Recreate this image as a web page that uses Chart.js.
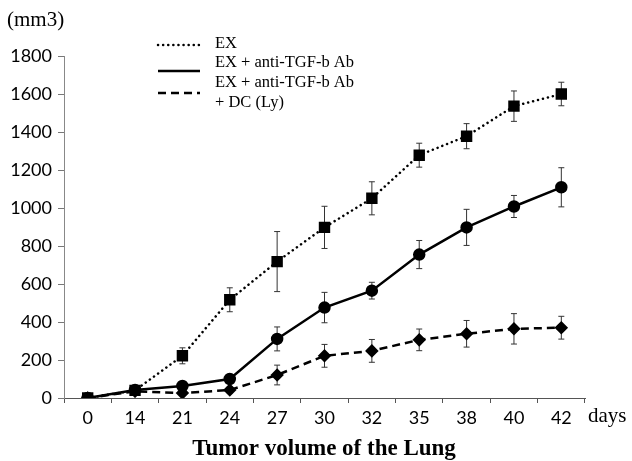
<!DOCTYPE html>
<html>
<head>
<meta charset="utf-8">
<script src="https://cdn.jsdelivr.net/npm/chart.js@4.4.1/dist/chart.umd.min.js"></script>
<style>
  html, body { margin: 0; padding: 0; background: #fff; }
  #wrap { width: 632px; height: 461px; position: relative; }
</style>
</head>
<body>
<div id="wrap"><canvas id="tumorChart" width="632" height="461"></canvas></div>
<script>
// days after treatment (category axis)
const days = ['0', '14', '21', '24', '27', '30', '32', '35', '38', '40', '42'];

// tumor volume (mm3) and error bars
const exValues = [0, 40, 222, 517, 718, 898, 1051, 1278, 1378, 1536, 1600];
const exErrors = [0, 0, 42, 63, 158, 111, 87, 63, 66, 80, 62];

const abValues = [0, 42, 63, 100, 311, 476, 565, 755, 898, 1008, 1109];
const abErrors = [0, 0, 10, 22, 63, 80, 44, 74, 95, 58, 103];

const dcValues = [0, 35, 26, 42, 121, 222, 248, 306, 338, 364, 370];
const dcErrors = [0, 0, 10, 15, 52, 60, 60, 57, 70, 80, 60];

const yTicks = [0, 200, 400, 600, 800, 1000, 1200, 1400, 1600, 1800];

const legendLabels = [['EX'], ['EX + anti-TGF-b Ab'], ['EX + anti-TGF-b Ab', '+ DC (Ly)']];

const tickFont = { family: 'Lato', size: 18 };

// vertical error bars with small caps, drawn under the markers
const errorBars = {
    id: 'errorBars',
    beforeDatasetsDraw(chart) {
        const ctx = chart.ctx;
        const yScale = chart.scales.y;
        ctx.save();
        ctx.strokeStyle = '#333';
        ctx.lineWidth = 1;
        chart.data.datasets.forEach((ds, i) => {
            const meta = chart.getDatasetMeta(i);
            meta.data.forEach((pt, j) => {
                const err = ds.errors[j];
                if (!err) return;
                const top = yScale.getPixelForValue(ds.data[j] + err);
                const bottom = yScale.getPixelForValue(ds.data[j] - err);
                ctx.beginPath();
                ctx.moveTo(pt.x, top);
                ctx.lineTo(pt.x, bottom);
                ctx.moveTo(pt.x - 3, top);
                ctx.lineTo(pt.x + 3, top);
                ctx.moveTo(pt.x - 3, bottom);
                ctx.lineTo(pt.x + 3, bottom);
                ctx.stroke();
            });
        });
        ctx.restore();
    }
};

// unit label, "days", bottom caption and the line-style legend
const extraText = {
    id: 'extraText',
    afterDraw(chart) {
        const ctx = chart.ctx;
        const area = chart.chartArea;
        ctx.save();
        ctx.fillStyle = '#000';
        ctx.textBaseline = 'middle';

        ctx.font = '21px "Liberation Serif"';
        ctx.textAlign = 'left';
        ctx.fillText('(mm3)', 7, 20);
        ctx.fillText('days', area.right + 3, 416);

        ctx.font = 'bold 23px "Liberation Serif"';
        ctx.textAlign = 'center';
        ctx.fillText('Tumor volume of the Lung', 324, 449);

        // legend
        ctx.font = '16.5px "Liberation Serif"';
        ctx.textAlign = 'left';
        const rowY = [[44], [63], [83, 103]];
        const sampleY = [45, 71, 93];
        chart.data.datasets.forEach((ds, i) => {
            ctx.beginPath();
            ctx.setLineDash(ds.borderDash || []);
            ctx.lineCap = ds.borderCapStyle || 'butt';
            ctx.lineWidth = ds.borderWidth;
            ctx.strokeStyle = '#000';
            ctx.moveTo(158, sampleY[i]);
            ctx.lineTo(200, sampleY[i]);
            ctx.stroke();
            legendLabels[i].forEach((t, k) => ctx.fillText(t, 215, rowY[i][k]));
        });
        ctx.restore();
    }
};

new Chart(document.getElementById('tumorChart'), {
    type: 'line',
    data: {
        labels: days,
        datasets: [
            {
                label: 'EX',
                data: exValues,
                errors: exErrors,
                borderColor: '#000',
                backgroundColor: '#000',
                borderWidth: 2.5,
                borderDash: [0.1, 5],
                borderCapStyle: 'round',
                pointStyle: 'rect',
                pointRadius: 6.3,
                tension: 0
            },
            {
                label: 'EX + anti-TGF-b Ab',
                data: abValues,
                errors: abErrors,
                borderColor: '#000',
                backgroundColor: '#000',
                borderWidth: 2.5,
                pointStyle: 'circle',
                pointRadius: 5,
                tension: 0
            },
            {
                label: 'EX + anti-TGF-b Ab + DC (Ly)',
                data: dcValues,
                errors: dcErrors,
                borderColor: '#000',
                backgroundColor: '#000',
                borderWidth: 2.5,
                borderDash: [8, 5],
                pointStyle: 'rectRot',
                pointRadius: 5,
                tension: 0
            }
        ]
    },
    options: {
        responsive: false,
        animation: false,
        layout: { padding: { left: 0, right: 47, top: 56, bottom: 0 } },
        plugins: {
            legend: { display: false },
            tooltip: { enabled: false }
        },
        scales: {
            x: {
                type: 'category',
                offset: true,
                grid: {
                    offset: true,
                    drawOnChartArea: false,
                    drawTicks: true,
                    tickLength: 5,
                    color: '#555'
                },
                border: { color: '#555', width: 1 },
                ticks: { color: '#000', font: tickFont, padding: 4, maxRotation: 0 },
                afterFit(scale) { scale.height = 63; }
            },
            y: {
                min: 0,
                max: 1800,
                afterBuildTicks(scale) { scale.ticks = yTicks.map(v => ({ value: v })); },
                grid: {
                    drawOnChartArea: false,
                    drawTicks: true,
                    tickLength: 6,
                    color: '#777'
                },
                border: { color: '#888', width: 1 },
                ticks: { color: '#000', font: tickFont, padding: 6, callback: v => String(v) },
                afterFit(scale) { scale.width = 64; }
            }
        }
    },
    plugins: [errorBars, extraText]
});
</script>
</body>
</html>
